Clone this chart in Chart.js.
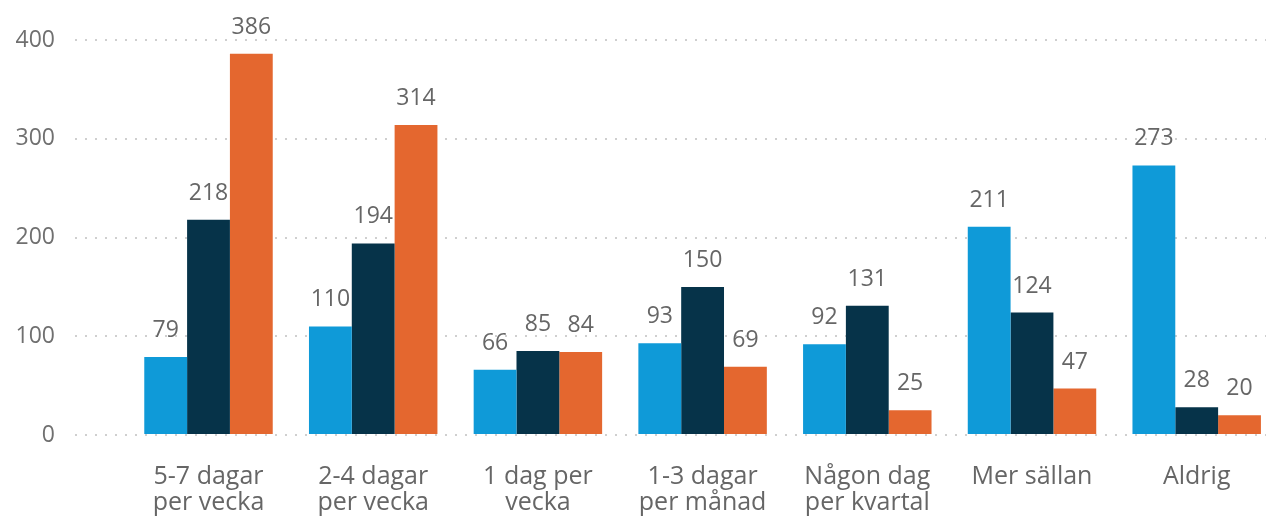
<!DOCTYPE html>
<html>
<head>
<meta charset="utf-8">
<script src="https://cdn.jsdelivr.net/npm/chart.js@4/dist/chart.umd.min.js"></script>
<style>
  html, body { margin: 0; padding: 0; background: #fff; overflow: hidden; }
  #wrap { width: 1266px; height: 526px; position: relative; }
</style>
</head>
<body>
<div id="wrap"><canvas id="c"></canvas></div>
<script>
const categories = [
  ["5-7 dagar", "per vecka"],
  ["2-4 dagar", "per vecka"],
  ["1 dag per", "vecka"],
  ["1-3 dagar", "per månad"],
  ["Någon dag", "per kvartal"],
  ["Mer sällan"],
  ["Aldrig"]
];
const seriesBlue   = [79, 110, 66, 93, 92, 211, 273];
const seriesNavy   = [218, 194, 85, 150, 131, 124, 28];
const seriesOrange = [386, 314, 84, 69, 25, 47, 20];
const yTicks = [0, 100, 200, 300, 400];

const FONT = "'Segoe UI', 'Open Sans', sans-serif";
const toPoints = arr => arr.map((v, i) => ({ x: i, y: v }));

const dataLabels = {
  id: 'dataLabels',
  afterDatasetsDraw(chart) {
    const ctx = chart.ctx;
    ctx.save();
    ctx.font = '23px ' + FONT;
    ctx.fillStyle = '#666666';
    ctx.textAlign = 'center';
    ctx.textBaseline = 'alphabetic';
    chart.data.datasets.forEach((ds, di) => {
      const meta = chart.getDatasetMeta(di);
      meta.data.forEach((el, i) => {
        ctx.fillText(String(ds.data[i].y), el.x, el.y - 20);
      });
    });
    ctx.restore();
  }
};

new Chart(document.getElementById('c'), {
  type: 'bar',
  data: {
    datasets: [
      { data: toPoints(seriesBlue), backgroundColor: '#0f9ad8' },
      { data: toPoints(seriesNavy), backgroundColor: '#063349' },
      { data: toPoints(seriesOrange), backgroundColor: '#e4672f' }
    ]
  },
  options: {
    responsive: true,
    maintainAspectRatio: false,
    animation: false,
    layout: { padding: { top: 40, right: 0, bottom: 0, left: 0 } },
    plugins: { legend: { display: false }, tooltip: { enabled: false } },
    datasets: { bar: { categoryPercentage: 0.78, barPercentage: 1.0 } },
    scales: {
      x: {
        type: 'linear',
        offset: false,
        bounds: 'data',
        min: -0.8106,
        max: 6.4208,
        grid: { display: false, offset: false },
        border: { display: false },
        afterDataLimits(scale) { scale.min = -0.8106; scale.max = 6.4208; },
        afterBuildTicks(scale) {
          scale.ticks = categories.map((_, i) => ({ value: i }));
        },
        afterFit(scale) { scale.height = 91; },
        ticks: {
          autoSkip: false,
          maxRotation: 0,
          minRotation: 0,
          padding: 21,
          color: '#666666',
          font: { family: FONT, size: 25, lineHeight: 1.04 },
          callback(value) {
            return Number.isInteger(value) && categories[value] ? categories[value] : '';
          }
        }
      },
      y: {
        min: 0,
        max: 400,
        afterBuildTicks(scale) {
          scale.ticks = yTicks.map(v => ({ value: v }));
        },
        afterFit(scale) { scale.width = 75; },
        grid: {
          color: '#cfcfcf',
          lineWidth: 2,
          drawTicks: false
        },
        border: { display: false, dash: [2, 8] },
        ticks: {
          padding: 20,
          color: '#707070',
          font: { family: FONT, size: 23 }
        }
      }
    }
  },
  plugins: [dataLabels]
});
</script>
</body>
</html>
